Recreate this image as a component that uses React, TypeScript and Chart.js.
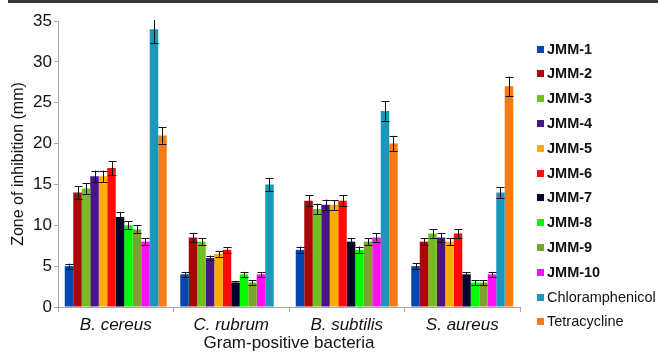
import React, { useEffect, useRef } from "react";
import { Chart, registerables } from "chart.js";

Chart.register(...registerables);

const categories = ["B. cereus", "C. rubrum", "B. subtilis", "S. aureus"];
const seriesNames = ["JMM-1", "JMM-2", "JMM-3", "JMM-4", "JMM-5", "JMM-6", "JMM-7", "JMM-8", "JMM-9", "JMM-10", "Chloramphenicol", "Tetracycline"];
const seriesColors = ["#0646ad", "#a80808", "#72bf22", "#4a1486", "#ffab00", "#ff0a0a", "#03032e", "#05f905", "#7ca42c", "#ff10ee", "#1a97ba", "#f57b17"];

const jmm1 = [5, 4, 7, 5];
const jmm2 = [14, 8.5, 13, 8];
const jmm3 = [14.5, 8, 12, 9];
const jmm4 = [16, 6, 12.5, 8.5];
const jmm5 = [16, 6.5, 12.5, 8];
const jmm6 = [17, 7, 13, 9];
const jmm7 = [11, 3, 8, 4];
const jmm8 = [10, 4, 7, 3];
const jmm9 = [9.5, 3, 8, 3];
const jmm10 = [8, 4, 8.5, 4];
const chloramphenicol = [34, 15, 24, 14];
const tetracycline = [21, null, 20, 27];

const err1 = [0.3, 0.3, 0.4, 0.35];
const err2 = [0.75, 0.55, 0.65, 0.45];
const err3 = [0.65, 0.45, 0.65, 0.5];
const err4 = [0.7, 0.3, 0.65, 0.5];
const err5 = [0.7, 0.35, 0.6, 0.45];
const err6 = [0.85, 0.35, 0.65, 0.5];
const err7 = [0.6, 0.2, 0.45, 0.3];
const err8 = [0.5, 0.3, 0.4, 0.3];
const err9 = [0.5, 0.25, 0.45, 0.3];
const err10 = [0.4, 0.3, 0.5, 0.3];
const errChlor = [1.7, 0.8, 1.2, 0.7];
const errTetra = [1.0, 0, 0.95, 1.2];

const yTicks = [0, 5, 10, 15, 20, 25, 30, 35];

const seriesValues = [jmm1, jmm2, jmm3, jmm4, jmm5, jmm6, jmm7, jmm8, jmm9, jmm10, chloramphenicol, tetracycline];
const seriesErrors = [err1, err2, err3, err4, err5, err6, err7, err8, err9, err10, errChlor, errTetra];

const FONT = "'Liberation Sans', Arial, Helvetica, sans-serif";

const errorBarPlugin = {
  id: "errorBars",
  afterDatasetsDraw(chart: any) {
    const ctx = chart.ctx;
    const y = chart.scales.y;
    const area = chart.chartArea;
    ctx.save();
    ctx.beginPath();
    ctx.rect(area.left, area.top - 1, area.right - area.left, area.bottom - area.top + 1);
    ctx.clip();
    ctx.strokeStyle = "#111";
    ctx.lineWidth = 1;
    chart.data.datasets.forEach((ds: any, di: number) => {
      const meta = chart.getDatasetMeta(di);
      const errs = seriesErrors[di];
      meta.data.forEach((el: any, i: number) => {
        const v = ds.data[i];
        const e = errs[i];
        if (v == null || !e) return;
        const x = Math.round(el.x) + 0.5;
        const yt = y.getPixelForValue(v + e);
        const yb = y.getPixelForValue(v - e);
        const hw = 4;
        ctx.beginPath();
        ctx.moveTo(x, yt);
        ctx.lineTo(x, yb);
        ctx.moveTo(x - hw, Math.round(yt) + 0.5);
        ctx.lineTo(x + hw, Math.round(yt) + 0.5);
        ctx.moveTo(x - hw, Math.round(yb) + 0.5);
        ctx.lineTo(x + hw, Math.round(yb) + 0.5);
        ctx.stroke();
      });
    });
    ctx.restore();
  },
};

const decorPlugin = {
  id: "decor",
  afterDraw(chart: any) {
    const ctx = chart.ctx;
    ctx.save();
    // top frame line
    ctx.fillStyle = "#3a3a3a";
    ctx.fillRect(8, 0, 650, 3);
    // legend
    chart.data.datasets.forEach((ds: any, i: number) => {
      const cy = 49 + i * 24.8;
      ctx.fillStyle = ds.backgroundColor;
      ctx.fillRect(537, Math.round(cy - 3.5), 7, 7);
      const bold = i < 10;
      ctx.font = bold ? `bold 14.5px ${FONT}` : `14.5px ${FONT}`;
      ctx.fillStyle = "#111";
      ctx.textBaseline = "middle";
      ctx.textAlign = "left";
      ctx.fillText(ds.label, 547, cy + 0.5);
    });
    ctx.restore();
  },
};

export default function App() {
  const ref = useRef<HTMLCanvasElement | null>(null);

  useEffect(() => {
    if (!ref.current) return;
    const chart = new Chart(ref.current, {
      type: "bar",
      data: {
        labels: categories,
        datasets: seriesNames.map((name, i) => ({
          label: name,
          data: seriesValues[i],
          backgroundColor: seriesColors[i],
          borderWidth: 0,
          barPercentage: 1,
          categoryPercentage: 0.883,
        })),
      },
      options: {
        responsive: false,
        animation: false,
        layout: { padding: { top: 21, right: 138, left: 0, bottom: 0 } },
        plugins: {
          legend: { display: false },
          tooltip: { enabled: false },
        },
        scales: {
          x: {
            grid: {
              display: true,
              offset: true,
              drawOnChartArea: false,
              drawTicks: true,
              tickLength: 5,
              color: "#a8a8a8",
            },
            border: { display: true, color: "#a8a8a8", width: 1 },
            ticks: {
              color: "#111",
              font: { family: FONT, size: 17, style: "italic" },
              padding: 3,
              maxRotation: 0,
            },
            title: {
              display: true,
              text: "Gram-positive bacteria",
              color: "#111",
              font: { family: FONT, size: 17 },
              padding: { top: 0, bottom: 0 },
            },
            afterFit(scale: any) {
              scale.height = 47;
            },
          },
          y: {
            min: 0,
            max: 35,
            afterBuildTicks(scale: any) {
              scale.ticks = yTicks.map((v) => ({ value: v }));
            },
            grid: {
              display: true,
              drawOnChartArea: false,
              drawTicks: true,
              tickLength: 4,
              color: "#a8a8a8",
            },
            border: { display: true, color: "#a8a8a8", width: 1 },
            ticks: {
              color: "#111",
              font: { family: FONT, size: 17 },
              padding: 2,
            },
            title: {
              display: true,
              text: "Zone of inhibition (mm)",
              color: "#111",
              font: { family: FONT, size: 16 },
              padding: { top: 9, bottom: 0 },
            },
            afterFit(scale: any) {
              scale.width = 58;
            },
          },
        },
      },
      plugins: [errorBarPlugin, decorPlugin],
    });
    return () => chart.destroy();
  }, []);

  return (
    <div style={{ position: "absolute", left: 0, top: 0, width: 658, height: 354, background: "#fff" }}>
      <canvas ref={ref} width={658} height={354} style={{ width: 658, height: 354 }} />
    </div>
  );
}
